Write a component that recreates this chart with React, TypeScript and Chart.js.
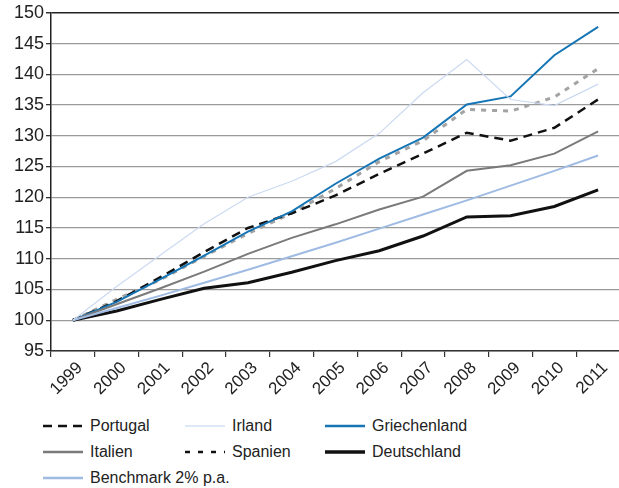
import React, { useEffect, useRef } from "react";
import { Chart, registerables } from "chart.js";

Chart.register(...registerables);

const years = ["1999", "2000", "2001", "2002", "2003", "2004", "2005", "2006", "2007", "2008", "2009", "2010", "2011"];
const portugal = [100, 103.1, 107.0, 111.1, 115.0, 117.4, 120.3, 123.8, 127.1, 130.5, 129.2, 131.3, 135.9];
const irland = [100, 105.5, 110.6, 115.7, 120.0, 122.6, 125.8, 130.4, 137.0, 142.4, 135.9, 134.9, 138.4];
const griechenland = [100, 103.0, 106.7, 110.5, 114.4, 117.7, 122.2, 126.3, 129.7, 135.1, 136.4, 143.1, 147.7];
const italien = [100, 102.6, 105.2, 107.9, 110.8, 113.4, 115.6, 118.0, 120.1, 124.3, 125.2, 127.1, 130.7];
const spanien = [100, 103.4, 106.6, 110.4, 114.1, 117.4, 121.4, 125.8, 129.2, 134.3, 134.0, 136.3, 140.9];
const deutschland = [100, 101.5, 103.4, 105.2, 106.1, 107.8, 109.7, 111.3, 113.7, 116.8, 117.0, 118.5, 121.2];
const benchmark = [100, 102.0, 104.0, 106.1, 108.2, 110.4, 112.6, 114.9, 117.2, 119.5, 121.9, 124.3, 126.8];
const yTicks = [95, 100, 105, 110, 115, 120, 125, 130, 135, 140, 145, 150];

const FONT = "'Liberation Sans', Arial, Helvetica, sans-serif";

type LegendItem = { label: string; color: string; width: number; dash?: string };
const legendRows: LegendItem[][] = [
  [
    { label: "Portugal", color: "#111", width: 2.5, dash: "9 6" },
    { label: "Irland", color: "#d3e0f3", width: 1.5 },
    { label: "Griechenland", color: "#1675b5", width: 2.5 },
  ],
  [
    { label: "Italien", color: "#7a7a7a", width: 2.5 },
    { label: "Spanien", color: "#111", width: 2.5, dash: "5 8" },
    { label: "Deutschland", color: "#111", width: 3.5 },
  ],
  [{ label: "Benchmark 2% p.a.", color: "#9fbbe4", width: 2.5 }],
];

export default function App() {
  const ref = useRef<HTMLCanvasElement | null>(null);
  useEffect(() => {
    if (!ref.current) return;
    const chart = new Chart(ref.current, {
      type: "line",
      data: {
        labels: years,
        datasets: [
          { label: "Irland", data: irland, borderColor: "#cbdaf1", borderWidth: 1.2 },
          { label: "Benchmark 2% p.a.", data: benchmark, borderColor: "#9fbbe4", borderWidth: 2 },
          { label: "Italien", data: italien, borderColor: "#7a7a7a", borderWidth: 2 },
          { label: "Deutschland", data: deutschland, borderColor: "#111111", borderWidth: 3 },
          { label: "Griechenland", data: griechenland, borderColor: "#1675b5", borderWidth: 2 },
          { label: "Portugal", data: portugal, borderColor: "#111111", borderWidth: 2.5, borderDash: [9, 6] },
          { label: "Spanien", data: spanien, borderColor: "#a3a3a3", borderWidth: 3, borderDash: [5, 6] },
        ].map((d) => ({ ...d, pointRadius: 0, tension: 0, fill: false })),
      },
      options: {
        animation: false,
        responsive: false,
        maintainAspectRatio: false,
        layout: { padding: { top: 11, left: 0, right: 0, bottom: 0 } },
        plugins: { legend: { display: false }, tooltip: { enabled: false } },
        scales: {
          x: {
            type: "category",
            offset: true,
            grid: { drawOnChartArea: false, drawTicks: true, tickLength: 6, color: "#333", lineWidth: 1.2, offset: true },
            border: { display: true, color: "#333", width: 1.5 },
            ticks: {
              font: { family: FONT, size: 17 },
              color: "#222",
              minRotation: 45,
              maxRotation: 45,
              autoSkip: false,
              padding: 1,
              labelOffset: 7,
            },
            afterFit: (s: any) => {
              s.height = 49;
            },
          },
          y: {
            min: 95,
            max: 150,
            afterBuildTicks: (s: any) => {
              s.ticks = yTicks.map((v) => ({ value: v }));
            },
            grid: {
              color: (c: any) => (c.tick && c.tick.value === 150 ? "#222" : "#9a9a9a"),
              tickColor: "#333",
              lineWidth: (c: any) => (c.tick && c.tick.value === 150 ? 1.5 : 1.3),
              tickLength: 5,
            },
            border: { display: true, color: "#222", width: 1.5 },
            ticks: {
              font: { family: FONT, size: 18 },
              color: "#222",
              padding: 2,
            },
            afterFit: (s: any) => {
              s.width = 51;
            },
          },
        },
      },
    });
    return () => chart.destroy();
  }, []);

  return (
    <div style={{ position: "fixed", left: 0, top: 0, width: 619, height: 488, background: "#fff", overflow: "hidden" }}>
      <canvas ref={ref} width={620} height={400} style={{ position: "absolute", left: 0, top: 0, width: 620, height: 400 }} />
      {legendRows.map((row, ri) =>
        row.map((item, ci) => {
          const xs = [43, 185, 325];
          const top = 426 + ri * 26;
          return (
            <div
              key={ri + "-" + ci}
              style={{ position: "absolute", left: xs[ci], top: top - 11, height: 22, display: "flex", alignItems: "center", fontFamily: FONT, fontSize: 16, color: "#222", whiteSpace: "nowrap" }}
            >
              <svg width={40} height={10} style={{ marginRight: 7 }}>
                <line x1={0} y1={5} x2={40} y2={5} stroke={item.color} strokeWidth={item.width} strokeDasharray={item.dash} />
              </svg>
              <span>{item.label}</span>
            </div>
          );
        })
      )}
    </div>
  );
}
